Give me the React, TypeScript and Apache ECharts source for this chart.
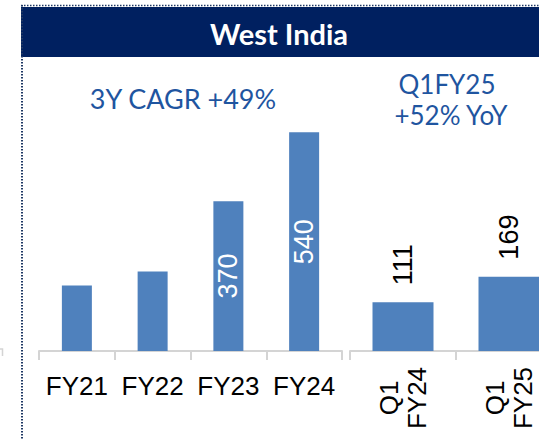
import React, { useEffect, useRef } from "react";
import * as echarts from "echarts";

const annualCategories = ["FY21", "FY22", "FY23", "FY24"];
const annualValues = [162, 196, 370, 540];
const annualLabelled = [false, false, true, true];
const quarterCategories = ["Q1\nFY24", "Q1\nFY25"];
const quarterValues = [111, 169];
const titleText = "West India";
const cagrText = "3Y CAGR +49%";
const yoyLines = ["Q1FY25", "+52% YoY"];

const BAR = "#4f81bd";
const NAVY = "#002060";
const ANNOT = "#1f55a0";
const AXIS = "#d4d4d4";
const NUM_FONT = "'Liberation Sans', Arial, sans-serif";

export default function App() {
  const ref = useRef<HTMLDivElement>(null);
  useEffect(() => {
    if (!ref.current) return;
    const chart = echarts.init(ref.current, null, { renderer: "svg" });
    const axisCommon = {
      type: "category" as const,
      boundaryGap: true,
      axisLine: { show: true, lineStyle: { color: AXIS, width: 2 } },
      axisTick: { show: true, length: 9, alignWithLabel: false, lineStyle: { color: AXIS, width: 2 } },
      splitLine: { show: false },
    };
    chart.setOption({
      animation: false,
      grid: [
        { left: 39, width: 303, top: 108, height: 243 },
        { left: 350, width: 212, top: 219, height: 132 },
      ],
      xAxis: [
        {
          ...axisCommon,
          gridIndex: 0,
          data: annualCategories,
          axisLabel: { color: "#000", fontSize: 26, fontFamily: NUM_FONT, margin: 22, interval: 0 },
        },
        {
          ...axisCommon,
          gridIndex: 1,
          data: quarterCategories,
          axisLabel: {
            color: "#000",
            fontSize: 26,
            fontFamily: NUM_FONT,
            rotate: 90,
            interval: 0,
            align: "center",
            verticalAlign: "middle",
            lineHeight: 28,
            margin: 47,
          },
        },
      ],
      yAxis: [
        { type: "value", gridIndex: 0, min: 0, max: 600, show: false, splitLine: { show: false } },
        { type: "value", gridIndex: 1, min: 0, max: 300, show: false, splitLine: { show: false } },
      ],
      series: [
        {
          type: "bar",
          xAxisIndex: 0,
          yAxisIndex: 0,
          barWidth: 30,
          itemStyle: { color: BAR },
          data: annualValues.map((v, i) => ({
            value: v,
            label: {
              show: annualLabelled[i],
              position: "inside",
              rotate: 90,
              color: "#fff",
              fontSize: 27,
              fontFamily: NUM_FONT,
            },
          })),
        },
        {
          type: "bar",
          xAxisIndex: 1,
          yAxisIndex: 1,
          barWidth: 61,
          itemStyle: { color: BAR },
          label: {
            show: true,
            position: "top",
            rotate: 90,
            align: "left",
            verticalAlign: "middle",
            distance: 17,
            color: "#000",
            fontSize: 27,
            fontFamily: NUM_FONT,
          },
          data: quarterValues,
        },
      ],
      graphic: [
        {
          type: "rect",
          shape: { x: 21, y: 7, width: 518, height: 50 },
          style: { fill: NAVY },
        },
        {
          type: "line",
          shape: { x1: 21, y1: 5.5, x2: 539, y2: 5.5 },
          style: { stroke: "#1f3864", lineWidth: 1.5, lineDash: [1.5, 1.5] },
        },
        {
          type: "line",
          shape: { x1: 22, y1: 5, x2: 22, y2: 440 },
          style: { stroke: "#1f3864", lineWidth: 2, lineDash: [1.5, 1.5] },
        },
        {
          type: "polyline",
          shape: { points: [[0, 349], [2.5, 349], [2.5, 356]] },
          style: { stroke: AXIS, lineWidth: 1.5, fill: "none" },
        },
        {
          type: "text",
          x: 279,
          y: 33,
          style: {
            text: titleText,
            fill: "#fff",
            font: "bold 29px Lato, sans-serif",
            align: "center",
            verticalAlign: "middle",
          },
        },
        {
          type: "text",
          x: 183,
          y: 98,
          style: {
            text: cagrText,
            fill: ANNOT,
            font: "27px Lato, sans-serif",
            align: "center",
            verticalAlign: "middle",
          },
        },
        {
          type: "text",
          x: 447,
          y: 84,
          style: {
            text: yoyLines[0],
            fill: ANNOT,
            font: "26px Lato, sans-serif",
            align: "center",
            verticalAlign: "middle",
          },
        },
        {
          type: "text",
          x: 451,
          y: 115,
          style: {
            text: yoyLines[1],
            fill: ANNOT,
            font: "26px Lato, sans-serif",
            align: "center",
            verticalAlign: "middle",
          },
        },
      ],
    });
    return () => chart.dispose();
  }, []);
  return (
    <div style={{ position: "absolute", left: 0, top: 0, width: 539, height: 440, overflow: "hidden", background: "#fff" }}>
      <div ref={ref} style={{ position: "absolute", left: 0, top: 0, width: 600, height: 440 }} />
    </div>
  );
}
